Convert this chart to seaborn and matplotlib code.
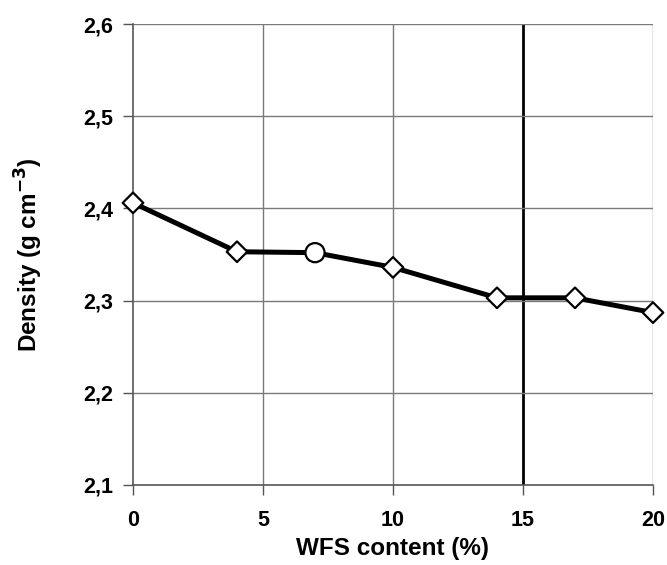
import matplotlib
matplotlib.use("Agg")
import matplotlib.pyplot as plt
import pandas as pd
import seaborn as sns

wfs_content = [0, 4, 7, 10, 14, 17, 20]
density = [2.406, 2.353, 2.352, 2.336, 2.303, 2.303, 2.287]
marker_kind = ["diamond", "diamond", "circle", "diamond", "diamond", "diamond", "diamond"]
x_ticks = [0, 5, 10, 15, 20]
y_ticks = [2.1, 2.2, 2.3, 2.4, 2.5, 2.6]
y_tick_labels = ["2,1", "2,2", "2,3", "2,4", "2,5", "2,6"]

df = pd.DataFrame({"wfs": wfs_content, "density": density, "kind": marker_kind})

sns.set_theme(style="white")
plt.rcParams["font.family"] = ["Liberation Sans", "DejaVu Sans"]

fig = plt.figure(figsize=(6.67, 5.65), dpi=100)
ax = fig.add_axes([0.1994, 0.1416, 0.7796, 0.8159])

sns.lineplot(data=df, x="wfs", y="density", color="black", linewidth=3.6, ax=ax, zorder=3)
sns.scatterplot(data=df, x="wfs", y="density", style="kind",
                markers={"diamond": "D", "circle": "o"}, size="kind",
                sizes={"diamond": 110, "circle": 190},
                color="white", edgecolor="black", linewidth=1.6,
                legend=False, ax=ax, zorder=4, clip_on=False)

ax.set_xlim(0, 20)
ax.set_ylim(2.1, 2.6)
ax.set_xticks(x_ticks)
ax.set_yticks(y_ticks)
ax.set_yticklabels(y_tick_labels)

# grid drawn by hand: the 15 % line is darker in the original
for x in x_ticks[1:]:
    if x == 15:
        ax.axvline(x, color="black", linewidth=2.0, zorder=1)
    else:
        ax.axvline(x, color="#7a7a7a", linewidth=1.0, zorder=1)
for y in y_ticks[1:]:
    ax.axhline(y, color="#7a7a7a", linewidth=1.0, zorder=1)

for side in ["top", "right"]:
    ax.spines[side].set_visible(False)
for side in ["left", "bottom"]:
    ax.spines[side].set_color("#555555")
    ax.spines[side].set_linewidth(1.2)

ax.tick_params(axis="both", direction="out", length=7, width=1.0, color="#555555",
               labelsize=15.5, labelcolor="black", bottom=True, left=True)
ax.tick_params(axis="y", pad=7)
ax.tick_params(axis="x", pad=11)
for lbl in ax.get_xticklabels() + ax.get_yticklabels():
    lbl.set_fontweight("bold")

ax.set_xlabel("WFS content (%)", fontsize=17.5, fontweight="bold", color="black", labelpad=4)
ax.set_ylabel("Density (g cm$^{\\mathbf{-3}}$)", fontsize=17.5, fontweight="bold",
              color="black", labelpad=28)

fig.savefig("out.png", dpi=100)
